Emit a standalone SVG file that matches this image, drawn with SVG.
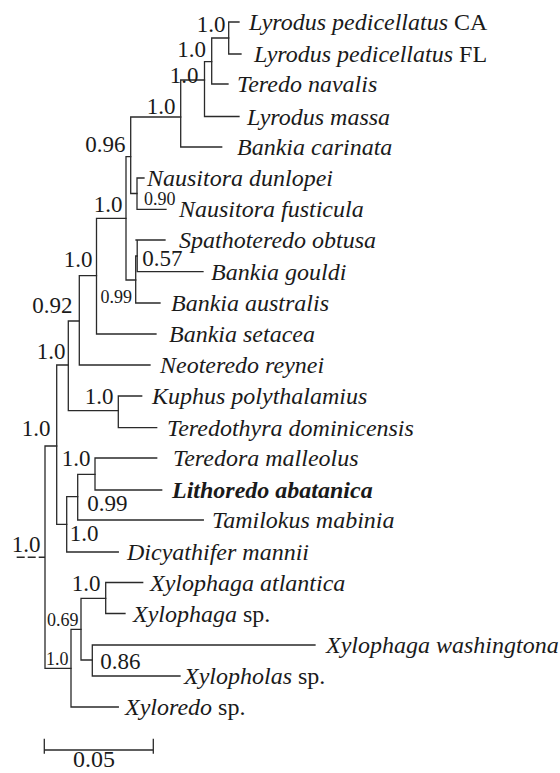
<svg xmlns="http://www.w3.org/2000/svg" width="560" height="773" viewBox="0 0 560 773" font-family="'Liberation Serif', 'Times New Roman', serif">
<style>
.e{fill:none;stroke:#2a2a2a;stroke-width:1.3;stroke-linecap:square}
.d{fill:none;stroke:#2a2a2a;stroke-width:1.6;stroke-dasharray:8 3}
text{font-family:"Liberation Serif","Times New Roman",serif;fill:#1a1a1a}
.t{font-size:24px;font-style:italic}
.u{font-style:normal}
.b{font-weight:bold}
.s{font-size:23px;text-anchor:end}
.m{font-size:18px;text-anchor:end}
.sc{font-size:24px}
</style>
<rect width="560" height="773" fill="#fff"/>
<g id="connectors">
<path class="e" d="M45 446V668.3M45 446H56.7M45 668.3H71"/>
<path class="e" d="M56.7 365V524.3M56.7 365H68.3M56.7 524.3H66.7"/>
<path class="e" d="M68.3 321V410.7M68.3 321H79.3M68.3 410.7H118.3"/>
<path class="e" d="M79.3 275.7V365M79.3 275.7H96.5M79.3 365H150"/>
<path class="e" d="M96.5 218.3V334M96.5 218.3H126M96.5 334H156"/>
<path class="e" d="M126 156.7V280M126 156.7H130.7M126 280H135.7"/>
<path class="e" d="M130.7 117V193.5M130.7 117H180.7M130.7 193.5H137"/>
<path class="e" d="M137 178V209.3M137 178H144M137 209.3H166"/>
<path class="e" d="M135.7 256V303M135.7 256H137.2M135.7 303H160"/>
<path class="e" d="M137.2 240V271.7M136 240H165M137.2 271.7H203"/>
<path class="e" d="M180.7 80V147M180.7 80H204.5M180.7 147H221.7"/>
<path class="e" d="M204.5 61.7V116.5M204.5 61.7H211.7M204.5 116.5H239"/>
<path class="e" d="M211.7 38V84M211.7 38H228.7M211.7 84H228"/>
<path class="e" d="M228.7 22V54M228.7 22H239M228.7 54H241"/>
<path class="e" d="M118.3 396V427.7M118.3 396H141.7M118.3 427.7H156.7"/>
<path class="e" d="M66.7 496.7V552M66.7 496.7H77.7M66.7 552H118.3"/>
<path class="e" d="M77.7 474.3V520M77.7 474.3H95M77.7 520H203.3"/>
<path class="e" d="M95 458V490M95 458H156.7M95 490H161.7"/>
<path class="e" d="M71 629.3V707M71 629.3H81M71 707H118.3"/>
<path class="e" d="M81 598.3V660M81 598.3H105.7M81 660H92.3"/>
<path class="e" d="M105.7 582.5V613.5M105.7 582.5H142.7M105.7 613.5H125"/>
<path class="e" d="M92.3 645V676M92.3 645H315M92.3 676H180"/>
<path class="d" d="M16.7 557.3H45"/>
</g>
<g id="leaf-lyrodus-ca"><text class="t" x="249" y="30">Lyrodus pedicellatus <tspan class="u">CA</tspan></text></g>
<g id="leaf-lyrodus-fl"><text class="t" x="254" y="62">Lyrodus pedicellatus <tspan class="u">FL</tspan></text></g>
<g id="leaf-teredo-navalis"><text class="t" x="237" y="92">Teredo navalis</text></g>
<g id="leaf-lyrodus-massa"><text class="t" x="247" y="124.5">Lyrodus massa</text></g>
<g id="leaf-bankia-carinata"><text class="t" x="237" y="155">Bankia carinata</text></g>
<g id="leaf-nausitora-dunlopei"><text class="t" x="147" y="186">Nausitora dunlopei</text></g>
<g id="leaf-nausitora-fusticula"><text class="t" x="179" y="217">Nausitora fusticula</text></g>
<g id="leaf-spathoteredo"><text class="t" x="179" y="248">Spathoteredo obtusa</text></g>
<g id="leaf-bankia-gouldi"><text class="t" x="211" y="279.5">Bankia gouldi</text></g>
<g id="leaf-bankia-australis"><text class="t" x="171" y="311">Bankia australis</text></g>
<g id="leaf-bankia-setacea"><text class="t" x="169" y="342">Bankia setacea</text></g>
<g id="leaf-neoteredo"><text class="t" x="160" y="373">Neoteredo reynei</text></g>
<g id="leaf-kuphus"><text class="t" x="152" y="404">Kuphus polythalamius</text></g>
<g id="leaf-teredothyra"><text class="t" x="167" y="435.5">Teredothyra dominicensis</text></g>
<g id="leaf-teredora"><text class="t" x="173" y="466">Teredora malleolus</text></g>
<g id="leaf-lithoredo"><text class="t b" x="172" y="498">Lithoredo abatanica</text></g>
<g id="leaf-tamilokus"><text class="t" x="212" y="528">Tamilokus mabinia</text></g>
<g id="leaf-dicyathifer"><text class="t" x="127" y="560">Dicyathifer mannii</text></g>
<g id="leaf-xylophaga-atlantica"><text class="t" x="150" y="590.5">Xylophaga atlantica</text></g>
<g id="leaf-xylophaga-sp"><text class="t" x="133" y="621.5">Xylophaga <tspan class="u">sp.</tspan></text></g>
<g id="leaf-xylophaga-washingtona"><text class="t" x="326" y="653">Xylophaga washingtona</text></g>
<g id="leaf-xylopholas"><text class="t" x="184" y="684">Xylopholas <tspan class="u">sp.</tspan></text></g>
<g id="leaf-xyloredo"><text class="t" x="125" y="715">Xyloredo <tspan class="u">sp.</tspan></text></g>
<g id="support-values">
<text class="s" x="225.5" y="32">1.0</text>
<text class="s" x="206" y="57">1.0</text>
<text class="s" x="198.5" y="82.5">1.0</text>
<text class="s" x="175.5" y="113.5">1.0</text>
<text class="s" x="125.5" y="152">0.96</text>
<text class="m" x="175.5" y="205">0.90</text>
<text class="s" x="122.5" y="212">1.0</text>
<text class="s" x="182.5" y="266">0.57</text>
<text class="s" x="92.5" y="267">1.0</text>
<text class="m" x="132" y="303">0.99</text>
<text class="s" x="72.5" y="313">0.92</text>
<text class="s" x="65.5" y="359">1.0</text>
<text class="s" x="113.5" y="404">1.0</text>
<text class="s" x="50.5" y="436">1.0</text>
<text class="s" x="90.5" y="466">1.0</text>
<text class="s" x="127.5" y="511">0.99</text>
<text class="s" x="98.5" y="541">1.0</text>
<text class="s" x="40.5" y="551.5">1.0</text>
<text class="s" x="100.5" y="591">1.0</text>
<text class="m" x="78.5" y="626">0.69</text>
<text class="m" x="68.5" y="665">1.0</text>
<text class="s" x="140.5" y="669">0.86</text>
</g>
<g id="scale-bar">
<path class="e" d="M44.3 750H153.3M44.3 739.5V753M153.3 739.5V753"/>
<text class="sc" x="73" y="767">0.05</text>
</g>
</svg>
